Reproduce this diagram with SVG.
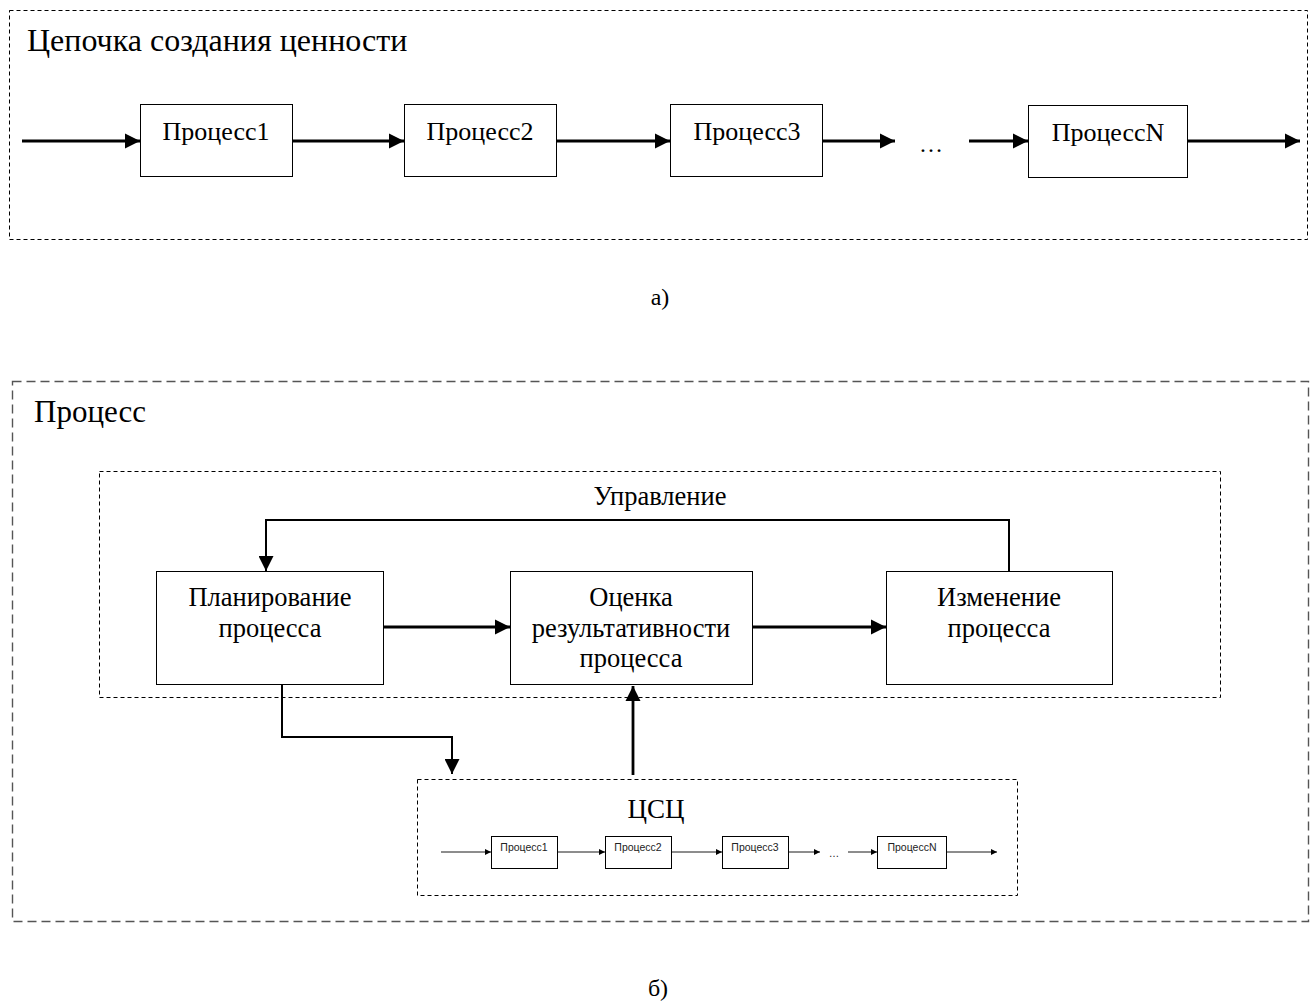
<svg xmlns="http://www.w3.org/2000/svg" width="1314" height="1003" viewBox="0 0 1314 1003">
<style>
.t{font-family:"Liberation Serif","Times New Roman",serif;fill:#000}
.s{font-family:"Liberation Sans",Arial,sans-serif;fill:#222;font-size:10.5px}
.box{fill:#fff;stroke:#000;stroke-width:1}
.dash{fill:none;stroke:#000;stroke-width:1;stroke-dasharray:4 3}
.dash2{fill:none;stroke:#555;stroke-width:1.4;stroke-dasharray:9 5}
.ln{fill:none;stroke:#000;stroke-width:2.8}
.ln2{fill:none;stroke:#000;stroke-width:2}
.sm{fill:none;stroke:#000;stroke-width:0.9}
</style>
<defs>
<marker id="ah" viewBox="0 0 10 10" refX="10" refY="5" markerWidth="5.4" markerHeight="5.6" markerUnits="strokeWidth" orient="auto"><path d="M0,0L10,5L0,10Z" fill="#000"/></marker>
<marker id="ah2" viewBox="0 0 10 10" refX="10" refY="5" markerWidth="7.5" markerHeight="7.5" markerUnits="strokeWidth" orient="auto"><path d="M0,0L10,5L0,10Z" fill="#000"/></marker>
<marker id="ahs" viewBox="0 0 10 10" refX="10" refY="5" markerWidth="7" markerHeight="7" markerUnits="strokeWidth" orient="auto"><path d="M0,0L10,5L0,10Z" fill="#000"/></marker>
</defs>

<!-- a) -->
<g id="chainA">
<rect class="dash" x="9.5" y="10.5" width="1298" height="229"/>
<text class="t" x="27" y="51" font-size="32">Цепочка создания ценности</text>
</g>
<g id="a-p1"><rect class="box" x="140.5" y="104.5" width="152" height="72"/><text class="t" x="216" y="140" font-size="26" text-anchor="middle">Процесс1</text></g>
<g id="a-p2"><rect class="box" x="404.5" y="104.5" width="152" height="72"/><text class="t" x="480" y="140" font-size="26" text-anchor="middle">Процесс2</text></g>
<g id="a-p3"><rect class="box" x="670.5" y="104.5" width="152" height="72"/><text class="t" x="747" y="140" font-size="26" text-anchor="middle">Процесс3</text></g>
<g id="a-pN"><rect class="box" x="1028.5" y="105.5" width="159" height="72"/><text class="t" x="1108" y="141" font-size="26" text-anchor="middle">ПроцессN</text></g>
<text class="t" x="931" y="152" font-size="24" text-anchor="middle">…</text>
<g id="a-conn">
<line class="ln" x1="22" y1="141" x2="140" y2="141" marker-end="url(#ah)"/>
<line class="ln" x1="293" y1="141" x2="404" y2="141" marker-end="url(#ah)"/>
<line class="ln" x1="557" y1="141" x2="670" y2="141" marker-end="url(#ah)"/>
<line class="ln" x1="823" y1="141" x2="895" y2="141" marker-end="url(#ah)"/>
<line class="ln" x1="969" y1="141" x2="1028" y2="141" marker-end="url(#ah)"/>
<line class="ln" x1="1188" y1="141" x2="1300" y2="141" marker-end="url(#ah)"/>
</g>
<text class="t" x="660" y="305" font-size="24" text-anchor="middle">а)</text>

<!-- б) -->
<g id="process"><rect class="dash2" x="12.5" y="381.5" width="1296" height="540"/><text class="t" x="34" y="422" font-size="31">Процесс</text></g>
<g id="control"><rect class="dash" x="99.5" y="471.5" width="1121" height="226"/><text class="t" x="660" y="505" font-size="26.5" text-anchor="middle">Управление</text></g>
<g id="plan"><rect class="box" x="156.5" y="571.5" width="227" height="113"/><text class="t" x="270" y="606" font-size="26.5" text-anchor="middle">Планирование</text><text class="t" x="270" y="637" font-size="26.5" text-anchor="middle">процесса</text></g>
<g id="eval"><rect class="box" x="510.5" y="571.5" width="242" height="113"/><text class="t" x="631" y="606" font-size="26.5" text-anchor="middle">Оценка</text><text class="t" x="631" y="637" font-size="26.5" text-anchor="middle">результативности</text><text class="t" x="631" y="667" font-size="26.5" text-anchor="middle">процесса</text></g>
<g id="change"><rect class="box" x="886.5" y="571.5" width="226" height="113"/><text class="t" x="999" y="606" font-size="26.5" text-anchor="middle">Изменение</text><text class="t" x="999" y="637" font-size="26.5" text-anchor="middle">процесса</text></g>
<g id="csc"><rect class="dash" x="417.5" y="779.5" width="600" height="116"/><text class="t" x="656" y="818" font-size="27" text-anchor="middle">ЦСЦ</text></g>
<g id="c-p1"><rect class="box" x="491.5" y="836.5" width="66" height="32"/><text class="s" x="524" y="851" text-anchor="middle">Процесс1</text></g>
<g id="c-p2"><rect class="box" x="605.5" y="836.5" width="66" height="32"/><text class="s" x="638" y="851" text-anchor="middle">Процесс2</text></g>
<g id="c-p3"><rect class="box" x="722.5" y="836.5" width="66" height="32"/><text class="s" x="755" y="851" text-anchor="middle">Процесс3</text></g>
<g id="c-pN"><rect class="box" x="877.5" y="836.5" width="69" height="32"/><text class="s" x="912" y="851" text-anchor="middle">ПроцессN</text></g>
<text class="s" x="834" y="857" text-anchor="middle">…</text>
<g id="b-conn">
<polyline class="ln2" points="1009,571 1009,520 266,520 266,571" marker-end="url(#ah2)"/>
<line class="ln" x1="384" y1="627" x2="510" y2="627" marker-end="url(#ah)"/>
<line class="ln" x1="753" y1="627" x2="886" y2="627" marker-end="url(#ah)"/>
<polyline class="ln2" points="282,685 282,737 452,737 452,774" marker-end="url(#ah2)"/>
<line class="ln" x1="633" y1="775" x2="633" y2="686" marker-end="url(#ah)"/>
<line class="sm" x1="441" y1="852" x2="491" y2="852" marker-end="url(#ahs)"/>
<line class="sm" x1="558" y1="852" x2="605" y2="852" marker-end="url(#ahs)"/>
<line class="sm" x1="672" y1="852" x2="722" y2="852" marker-end="url(#ahs)"/>
<line class="sm" x1="789" y1="852" x2="820" y2="852" marker-end="url(#ahs)"/>
<line class="sm" x1="848" y1="852" x2="877" y2="852" marker-end="url(#ahs)"/>
<line class="sm" x1="947" y1="852" x2="997" y2="852" marker-end="url(#ahs)"/>
</g>
<text class="t" x="658" y="996" font-size="24" text-anchor="middle">б)</text>
</svg>
